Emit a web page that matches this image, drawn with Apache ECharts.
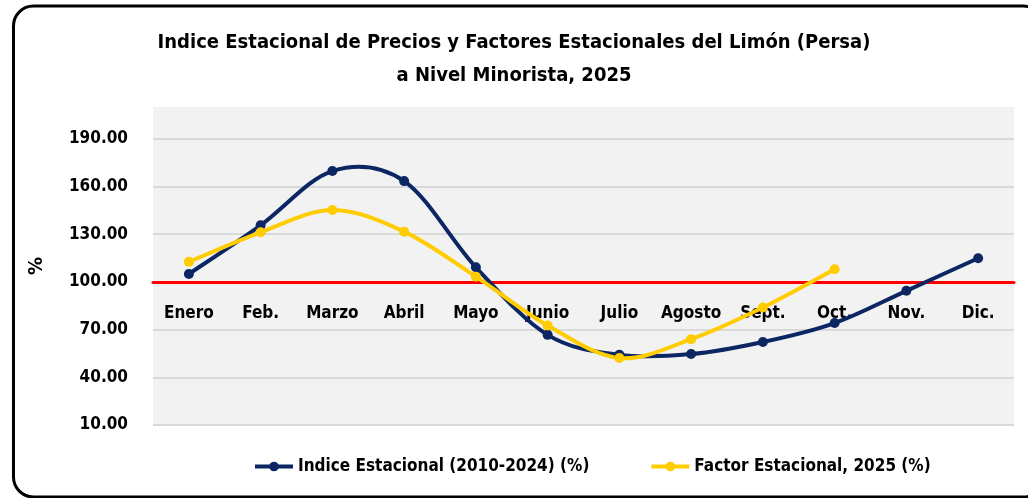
<!DOCTYPE html>
<html lang="es">
<head>
    <meta charset="UTF-8">
    <title>Indice Estacional Limón</title>
    <script src="https://cdn.jsdelivr.net/npm/echarts@6/dist/echarts.min.js"></script>
    <style>
        html, body { margin: 0; padding: 0; background: #fff; }
        #main { width: 1028px; height: 498px; }
    </style>
</head>
<body>
<div id="main"></div>
<script>
    // datos
    var meses = ['Enero', 'Feb.', 'Marzo', 'Abril', 'Mayo', 'Junio', 'Julio', 'Agosto', 'Sept.', 'Oct.', 'Nov.', 'Dic.'];
    var indiceEstacional = [105.0, 135.6, 169.7, 163.4, 109.2, 66.7, 54.2, 54.6, 62.2, 74.1, 94.4, 114.9];
    var factorEstacional = [112.6, 131.2, 145.2, 131.6, 103.3, 72.6, 52.1, 64.0, 83.9, 108.0];
    var yTicks = [10, 40, 70, 100, 130, 160, 190];

    var fuente = "'DejaVu Sans Condensed', sans-serif";
    var azul = '#0b2663';
    var amarillo = '#ffcc00';

    var myChart = echarts.init(document.getElementById('main'));

    // colores de las lineas de division; la ultima (tope) queda invisible
    var splitColors = yTicks.map(function () { return '#d9d9d9'; });
    splitColors.push('rgba(0,0,0,0)');

    // curva suavizada tipo Excel (Catmull-Rom), un tramo por punto
    function curva(valores, color) {
        return {
            type: 'custom',
            silent: true,
            z: 2,
            data: valores.map(function (v, i) { return [i, v]; }),
            renderItem: function (params, api) {
                var i = params.dataIndex;
                var n = valores.length;
                if (i >= n - 1) return null;
                function p(k) {
                    k = Math.max(0, Math.min(n - 1, k));
                    return api.coord([k, valores[k]]);
                }
                var p0 = p(i - 1), p1 = p(i), p2 = p(i + 1), p3 = p(i + 2);
                return {
                    type: 'bezierCurve',
                    shape: {
                        x1: p1[0], y1: p1[1],
                        x2: p2[0], y2: p2[1],
                        cpx1: p1[0] + (p2[0] - p0[0]) / 6,
                        cpy1: p1[1] + (p2[1] - p0[1]) / 6,
                        cpx2: p2[0] - (p3[0] - p1[0]) / 6,
                        cpy2: p2[1] - (p3[1] - p1[1]) / 6
                    },
                    style: { fill: null, stroke: color, lineWidth: 4, lineCap: 'round' }
                };
            }
        };
    }

    var tituloStyle = { fontSize: 20, fontWeight: 'bold', color: '#000', fontFamily: fuente };

    var option = {
        backgroundColor: '#fff',
        textStyle: { fontFamily: fuente },
        title: [
            { text: 'Indice Estacional de Precios y Factores Estacionales del Limón (Persa)', left: 'center', top: 28, textStyle: tituloStyle },
            { text: 'a Nivel Minorista, 2025', left: 'center', top: 61, textStyle: tituloStyle }
        ],
        legend: {
            left: 248,
            top: 453,
            itemWidth: 38,
            itemHeight: 12,
            itemGap: 60,
            textStyle: { fontSize: 17, fontWeight: 'bold', color: '#000', fontFamily: fuente },
            data: [
                { name: 'Indice Estacional (2010-2024) (%)', lineStyle: { opacity: 1, width: 4, color: azul } },
                { name: 'Factor Estacional, 2025 (%)', lineStyle: { opacity: 1, width: 4, color: amarillo } }
            ]
        },
        graphic: [{
            type: 'rect',
            shape: { x: 13.5, y: 6, width: 1030, height: 491, r: 20 },
            style: { fill: 'none', stroke: '#000', lineWidth: 3 },
            z: 100
        }],
        grid: {
            left: 153,
            right: 14,
            top: 107,
            bottom: 73,
            show: true,
            backgroundColor: '#f2f2f2',
            borderWidth: 0
        },
        xAxis: {
            type: 'category',
            data: meses,
            offset: -143,
            axisLine: { lineStyle: { color: '#ff0000', width: 3 } },
            axisTick: { show: false },
            axisLabel: { interval: 0, color: '#000', fontSize: 17, fontWeight: 'bold', margin: 23, fontFamily: fuente }
        },
        yAxis: {
            type: 'value',
            min: 10,
            max: 210,
            interval: 30,
            name: '%',
            nameLocation: 'middle',
            nameRotate: 90,
            nameGap: 106,
            nameTextStyle: { fontSize: 20, fontWeight: 'bold', color: '#000', fontFamily: fuente },
            axisLine: { show: false },
            axisTick: { show: false },
            axisLabel: {
                color: '#000',
                fontSize: 17,
                fontWeight: 'bold',
                margin: 25,
                fontFamily: fuente,
                formatter: function (v) { return yTicks.indexOf(v) >= 0 ? v.toFixed(2) : ''; }
            },
            splitLine: { lineStyle: { color: splitColors, width: 2 } }
        },
        series: [
            curva(indiceEstacional, azul),
            curva(factorEstacional, amarillo),
            {
                name: 'Indice Estacional (2010-2024) (%)',
                type: 'line',
                data: indiceEstacional,
                symbol: 'circle',
                symbolSize: 10,
                itemStyle: { color: azul },
                lineStyle: { color: azul, width: 4, opacity: 0 },
                z: 3
            },
            {
                name: 'Factor Estacional, 2025 (%)',
                type: 'line',
                data: factorEstacional,
                symbol: 'circle',
                symbolSize: 10,
                itemStyle: { color: amarillo },
                lineStyle: { color: amarillo, width: 4, opacity: 0 },
                z: 4
            }
        ]
    };

    myChart.setOption(option);
</script>
</body>
</html>
